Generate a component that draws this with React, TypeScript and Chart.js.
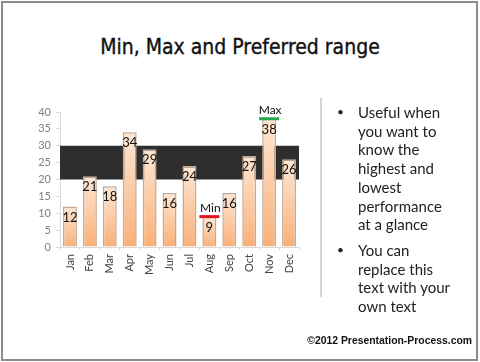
import React, { useEffect, useRef } from "react";
import { Chart, registerables } from "chart.js";

Chart.register(...registerables);

const months = ["Jan", "Feb", "Mar", "Apr", "May", "Jun", "Jul", "Aug", "Sep", "Oct", "Nov", "Dec"];
const values = [12, 21, 18, 34, 29, 16, 24, 9, 16, 27, 38, 26];
const preferredRange = [20, 30];
const yMin = 0;
const yMax = 40;
const yStep = 5;
const titleText = "Min, Max and Preferred range";
const bulletLines = [
  ["Useful when", "you want to", "know the", "highest and", "lowest", "performance", "at a glance"],
  ["You can", "replace this", "text with your", "own text"],
];
const footerText = "\u00a92012 Presentation-Process.com";

const FONT = "Lato, 'Open Sans', sans-serif";

const bandPlugin = {
  id: "band",
  beforeDatasetsDraw(chart: any) {
    const { ctx, chartArea, scales } = chart;
    const yTop = scales.y.getPixelForValue(preferredRange[1]);
    const yBot = scales.y.getPixelForValue(preferredRange[0]);
    ctx.save();
    ctx.fillStyle = "#2e2e2e";
    ctx.fillRect(chartArea.left, yTop, chartArea.right - chartArea.left, yBot - yTop);
    ctx.restore();
  },
};

const labelPlugin = {
  id: "labels",
  afterDatasetsDraw(chart: any) {
    const { ctx } = chart;
    const meta = chart.getDatasetMeta(0);
    ctx.save();
    ctx.textAlign = "center";
    ctx.textBaseline = "middle";
    ctx.font = `13px ${FONT}`;
    ctx.fillStyle = "#111";
    meta.data.forEach((el: any, i: number) => {
      ctx.fillText(String(values[i]), el.x, el.y + 11);
    });
    const maxIdx = values.indexOf(Math.max(...values));
    const minIdx = values.indexOf(Math.min(...values));
    const marks = [
      { idx: maxIdx, text: "Max", color: "#1faa4b" },
      { idx: minIdx, text: "Min", color: "#e3131b" },
    ];
    marks.forEach((m) => {
      const el = meta.data[m.idx];
      ctx.strokeStyle = m.color;
      ctx.lineWidth = 3;
      ctx.beginPath();
      ctx.moveTo(el.x - 10, el.y);
      ctx.lineTo(el.x + 10, el.y);
      ctx.stroke();
      ctx.font = `12px ${FONT}`;
      ctx.fillStyle = "#111";
      ctx.fillText(m.text, el.x + 1, el.y - 9);
    });
    ctx.restore();
  },
};

function ChartCanvas() {
  const ref = useRef<HTMLCanvasElement | null>(null);
  useEffect(() => {
    if (!ref.current) return;
    const chart = new Chart(ref.current, {
      type: "bar",
      data: {
        labels: months,
        datasets: [
          {
            data: values,
            backgroundColor: (c: any) => {
              const ch = c.chart;
              if (c.type !== "data" || !ch.chartArea) return "#fbc594";
              const yTop = ch.scales.y.getPixelForValue(c.raw);
              const yBot = ch.scales.y.getPixelForValue(0);
              const g = ch.ctx.createLinearGradient(0, yTop, 0, yBot);
              g.addColorStop(0, "#fee7d4");
              g.addColorStop(1, "#f9b079");
              return g;
            },
            borderColor: "#c2aa94",
            borderWidth: 1.5,
            borderSkipped: "bottom",
            barPercentage: 0.7,
            categoryPercentage: 1,
          },
        ],
      },
      options: {
        responsive: false,
        animation: false,
        devicePixelRatio: 1,
        layout: { padding: { left: 30, right: 181, top: 112, bottom: 75 } },
        plugins: { legend: { display: false }, tooltip: { enabled: false }, title: { display: false } },
        scales: {
          y: {
            min: yMin,
            max: yMax,
            ticks: { stepSize: yStep, color: "#7f7f7f", font: { family: FONT, size: 11 }, padding: 5 },
            grid: { drawOnChartArea: false, drawTicks: true, tickLength: 4, color: "#d9d9d9" },
            border: { color: "#d9d9d9" },
            afterFit: (s: any) => {
              s.width = 30;
            },
          },
          x: {
            ticks: { minRotation: 90, maxRotation: 90, color: "#3f3f3f", font: { family: FONT, size: 11 }, padding: 4 },
            grid: { offset: true, drawOnChartArea: false, tickLength: 3, color: "#d9d9d9" },
            border: { color: "#d9d9d9" },
            afterFit: (s: any) => {
              s.height = 40;
            },
          },
        },
      },
      plugins: [bandPlugin, labelPlugin],
    } as any);
    return () => chart.destroy();
  }, []);
  return (
    <canvas
      ref={ref}
      width={480}
      height={362}
      style={{ position: "absolute", left: 0, top: 0, width: 480, height: 362 }}
    />
  );
}

export default function App() {
  return (
    <div
      style={{
        position: "fixed",
        left: 0,
        top: 0,
        width: 480,
        height: 362,
        background: "#fff",
        overflow: "hidden",
      }}
    >
      <div
        style={{
          position: "absolute",
          left: 1,
          top: 1,
          width: 477,
          height: 360,
          boxSizing: "border-box",
          border: "2px solid #8c8c8c",
        }}
      />
      <div
        style={{
          position: "absolute",
          left: 0,
          top: 33,
          width: 480,
          textAlign: "center",
          fontFamily: "'DejaVu Sans Condensed', sans-serif",
          fontSize: 21,
          lineHeight: "28px",
          color: "#111",
          WebkitTextStroke: "0.35px #111",
        }}
      >
        {titleText}
      </div>
      <ChartCanvas />
      <div
        style={{
          position: "absolute",
          left: 320,
          top: 98,
          width: 1.5,
          height: 199,
          background: "#d4d4d4",
        }}
      />
      <div
        style={{
          position: "absolute",
          left: 337,
          top: 103,
          width: 140,
          fontFamily: FONT,
          fontSize: 15,
          lineHeight: "18.7px",
          color: "#222",
        }}
      >
        {bulletLines.map((lines, i) => (
          <div key={i} style={{ display: "flex", marginBottom: 7 }}>
            <span style={{ width: 21, flex: "none", fontSize: 12 }}>{"\u2022"}</span>
            <span>
              {lines.map((l, j) => (
                <div key={j} style={{ whiteSpace: "nowrap" }}>
                  {l}
                </div>
              ))}
            </span>
          </div>
        ))}
      </div>
      <div
        style={{
          position: "absolute",
          right: 8,
          top: 334,
          fontFamily: "'Liberation Sans', Arial, sans-serif",
          fontWeight: "bold",
          fontSize: 10.4,
          lineHeight: "14px",
          color: "#111",
        }}
      >
        {footerText}
      </div>
    </div>
  );
}
